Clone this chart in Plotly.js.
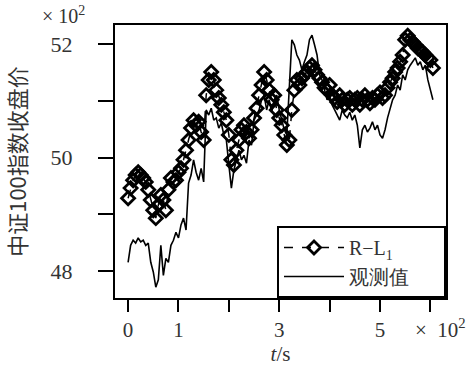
<!DOCTYPE html>
<html>
<head>
<meta charset="utf-8">
<script src="https://cdn.plot.ly/plotly-3.0.1.min.js"></script>
<style>html,body{margin:0;padding:0;background:#fff}#chart{width:472px;height:366px}</style>
</head>
<body>
<div id="chart"></div>
<script>
// time in seconds
const tSec = [0,5,10,15,20,25,30,35,40,45,50,55,60,65,70,75,80,85,90,95,
  100,105,110,115,120,125,130,135,140,145,150,155,160,165,170,175,180,185,190,195,
  200,205,210,215,220,225,230,235,240,245,250,255,260,265,270,275,280,285,290,295,
  300,305,310,315,320,325,330,335,340,345,350,355,360,365,370,375,380,385,390,395,
  400,405,410,415,420,425,430,435,440,445,450,455,460,465,470,475,480,485,490,495,
  500,505,510,515,520,525,530,535,540,545,550,555,560,565,570,575,580,585,590,595,
  600,605];

// observed closing price (观测值)
const observed = [4815,4845,4854,4849,4858,4851,4854,4845,4849,4815,4798,4771,4784,4845,4792,4822,4815,4845,4854,4868,
  4858,4881,4893,4872,4955,4969,4996,4974,4960,4981,4957,5084,5075,5087,5066,5070,5052,5061,5040,5031,
  4987,4946,4978,4996,5013,4996,5004,4990,5031,5022,5066,5075,5084,5102,5110,5084,5102,5080,5102,5110,
  5084,5066,5049,5040,5137,5208,5199,5181,5172,5155,5169,5181,5208,5216,5199,5181,5146,5137,5119,5102,
  5110,5093,5084,5075,5066,5084,5075,5070,5080,5066,5075,5057,5017,5049,5057,5045,5052,5063,5049,5057,
  5040,5034,5049,5070,5084,5102,5110,5128,5119,5146,5137,5155,5163,5169,5176,5163,5169,5155,5163,5137,
  5119,5102];

// R-L1 prediction
const predRL1 = [4928,4946,4960,4969,4974,4969,4964,4957,4943,4925,4907,4893,4916,4934,4925,4907,4943,4964,4957,4960,
  4974,4981,4996,5013,5031,5052,5066,5057,5063,5045,5031,5110,5137,5151,5137,5119,5105,5093,5080,5066,
  5040,4996,4987,5013,5031,5049,5057,5045,5034,5049,5070,5087,5110,5128,5151,5137,5119,5102,5110,5084,
  5070,5057,5040,5022,5031,5084,5119,5137,5128,5140,5146,5151,5158,5163,5155,5146,5140,5133,5123,5119,
  5128,5110,5105,5098,5110,5102,5093,5102,5105,5093,5102,5105,5093,5102,5110,5102,5096,5105,5102,5110,
  5115,5105,5110,5123,5133,5140,5151,5158,5169,5181,5208,5215,5208,5204,5199,5193,5190,5186,5181,5176,
  5172,5158];

const xTickVals = [0,100,200,300,400,500,600];
const xTickText = ['0','1','','3','','5',''];
const yTickVals = [4800,4900,5000,5100,5200];
const yTickText = ['48','','50','','52'];

const serif = 'Liberation Serif';
const cjk = 'Noto Sans CJK SC';
const txtColor = '#333';

const traces = [
  {
    x: tSec, y: predRL1, name: 'R\u2212L<sub>1</sub>', type: 'scatter', mode: 'lines+markers',
    line: {color: 'black', width: 1.5, dash: 'dash'},
    marker: {symbol: 'diamond-open', size: 10, color: 'black', line: {width: 2.8, color: 'black'}}
  },
  {
    x: tSec, y: observed, name: '观测值\u00a0\u00a0\u00a0\u00a0\u00a0\u00a0', type: 'scatter', mode: 'lines',
    line: {color: 'black', width: 1.6}
  }
];

const layout = {
  width: 472, height: 366,
  margin: {l: 115, r: 26, t: 25, b: 68},
  paper_bgcolor: 'white', plot_bgcolor: 'white',
  font: {family: serif, size: 20, color: txtColor},
  showlegend: true,
  legend: {
    x: 1, y: 0, xanchor: 'right', yanchor: 'bottom',
    bgcolor: 'white', bordercolor: 'black', borderwidth: 2,
    font: {family: serif, size: 20, color: txtColor},
    itemwidth: 60
  },
  xaxis: {
    range: [-26, 631], showgrid: false, zeroline: false,
    showline: true, linecolor: 'black', linewidth: 2, mirror: true,
    ticks: 'outside', ticklen: 12, tickwidth: 2, tickcolor: 'black',
    tickvals: xTickVals, ticktext: xTickText,
    tickfont: {family: serif, size: 21, color: txtColor},
    title: {text: '<i>t</i>/s', font: {family: serif, size: 21, color: txtColor}, standoff: 4}
  },
  yaxis: {
    range: [4752, 5234], showgrid: false, zeroline: false,
    showline: true, linecolor: 'black', linewidth: 2, mirror: true,
    ticks: 'outside', ticklen: 15, tickwidth: 2, tickcolor: 'black',
    ticklabelstandoff: 21,
    tickvals: yTickVals, ticktext: yTickText,
    tickfont: {family: serif, size: 22, color: txtColor},
    title: {text: '中证100指数收盘价', font: {family: cjk, size: 22, color: txtColor}, standoff: 24}
  },
  annotations: [
    {xref: 'paper', yref: 'paper', x: 0, y: 1, xshift: -52, yshift: 10, xanchor: 'center', yanchor: 'middle',
     text: '× 10<sup>2</sup>', showarrow: false, font: {family: serif, size: 20, color: txtColor}},
    {xref: 'paper', yref: 'paper', x: 1, y: 0, xshift: -33, yshift: -30, xanchor: 'left', yanchor: 'middle',
     text: '×  10<sup>2</sup>', showarrow: false, font: {family: serif, size: 21, color: txtColor}}
  ]
};

Plotly.newPlot('chart', traces, layout, {displayModeBar: false, staticPlot: true});
</script>
</body>
</html>
